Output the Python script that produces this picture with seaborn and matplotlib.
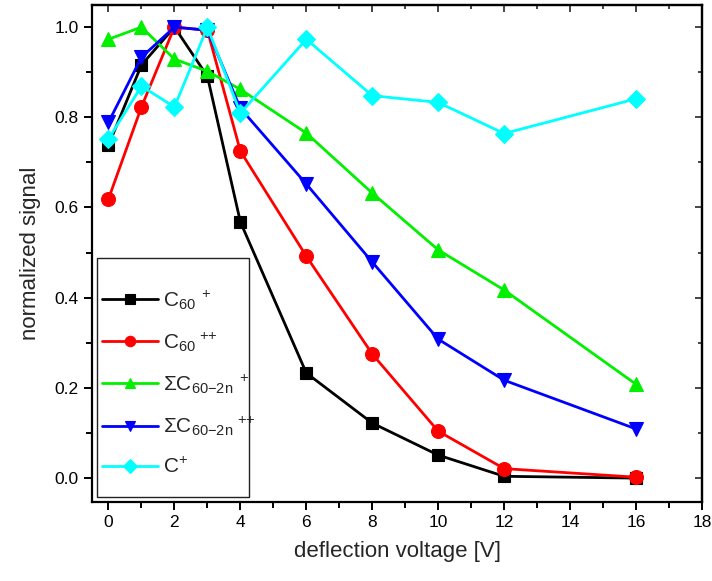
import numpy as np
import pandas as pd
import seaborn as sns
import matplotlib
matplotlib.use("Agg")
import matplotlib.pyplot as plt
from matplotlib.patches import Rectangle

# deflection voltages [V]
voltage = [0, 1, 2, 3, 4, 6, 8, 10, 12, 16]

# normalized signals for each ion species
c60_single = [0.738, 0.916, 1.0, 0.891, 0.568, 0.233, 0.122, 0.051, 0.004, 0.0]
c60_double = [0.619, 0.823, 1.0, 0.993, 0.725, 0.492, 0.275, 0.104, 0.021, 0.002]
frag_single = [0.973, 1.0, 0.929, 0.902, 0.862, 0.765, 0.632, 0.506, 0.417, 0.208]
frag_double = [0.789, 0.933, 1.0, 0.993, 0.82, 0.652, 0.479, 0.308, 0.217, 0.109]
carbon_single = [0.752, 0.869, 0.823, 1.0, 0.809, 0.973, 0.848, 0.833, 0.764, 0.841]

labels = [
    r"C$_{60}{}^{\ +}$",
    r"C$_{60}{}^{\ {+}{+}}$",
    r"$\Sigma$C$_{60\mathrm{-}2n}{}^{\ +}$",
    r"$\Sigma$C$_{60\mathrm{-}2n}{}^{\ {+}{+}}$",
    r"C$^{+}$",
]
series = [c60_single, c60_double, frag_single, frag_double, carbon_single]
colors = ["#000000", "#ff0000", "#00f000", "#0000ff", "#00ffff"]
markers = ["s", "o", "^", "v", "D"]
msizes = [9, 10, 10.5, 10.5, 9.5]

sns.set_theme(style="ticks")
plt.rcParams["font.family"] = ["Liberation Sans", "DejaVu Sans"]
plt.rcParams["mathtext.fontset"] = "custom"
plt.rcParams["mathtext.rm"] = "Liberation Sans"
plt.rcParams["mathtext.it"] = "Liberation Sans"

fig = plt.figure(figsize=(7.12, 5.81), dpi=100)
ax = fig.add_axes([92 / 712, 79 / 581, 610 / 712, 497 / 581])

for vals, lab, col, mk, ms in zip(series, labels, colors, markers, msizes):
    sns.lineplot(x=voltage, y=vals, ax=ax, color=col, marker=mk, markersize=ms,
                 markeredgecolor=col, markeredgewidth=0.8, linewidth=2.0,
                 label=lab, estimator=None, sort=False)

ax.set_xlim(-0.5, 18)
ax.set_ylim(-0.053, 1.049)
ax.set_xticks(np.arange(0, 19, 2))
ax.set_xticks(np.arange(0, 19, 1), minor=True)
ax.set_yticks(np.arange(0, 1.01, 0.2))
ax.set_yticks(np.arange(0.1, 1.01, 0.2), minor=True)
ax.yaxis.set_major_formatter(matplotlib.ticker.FormatStrFormatter("%.1f"))

for s in ax.spines.values():
    s.set_linewidth(1.6)
    s.set_color("black")
ax.tick_params(which="both", direction="out", width=1.4, top=False, right=False,
               labelsize=12.5, colors="black")
ax.tick_params(which="major", length=6)
ax.tick_params(which="minor", length=4)

# inward ticks along the top and right edges
secx = ax.secondary_xaxis("top")
secx.set_xticks(np.arange(0, 19, 2))
secx.set_xticks(np.arange(0, 19, 1), minor=True)
secx.tick_params(which="both", direction="in", width=1.2, labeltop=False)
secx.tick_params(which="major", length=5)
secx.tick_params(which="minor", length=3)
secx.spines["top"].set_linewidth(1.6)
secy = ax.secondary_yaxis("right")
secy.set_yticks(np.arange(0, 1.01, 0.2))
secy.set_yticks(np.arange(0.1, 1.01, 0.2), minor=True)
secy.tick_params(which="both", direction="in", width=1.2, labelright=False)
secy.tick_params(which="major", length=5)
secy.tick_params(which="minor", length=3)
secy.spines["right"].set_linewidth(1.6)

ax.set_xlabel("deflection voltage [V]", fontsize=16, labelpad=8)
ax.set_ylabel("normalized signal", fontsize=16, labelpad=10)

# legend box drawn as its own opaque panel
box = Rectangle((0.0082, 0.010), 0.249, 0.481, transform=ax.transAxes,
                facecolor="white", edgecolor="#222222", linewidth=1.0, zorder=4)
ax.add_patch(box)
leg = ax.legend(loc="center left", bbox_to_anchor=(0.016, 0.240), fontsize=15,
                frameon=False, labelspacing=0.9, handlelength=2.7,
                handletextpad=0.25, borderpad=0.0, borderaxespad=0.0,
                markerscale=0.75)
leg.set_zorder(5)

fig.savefig("out.png", dpi=100)
